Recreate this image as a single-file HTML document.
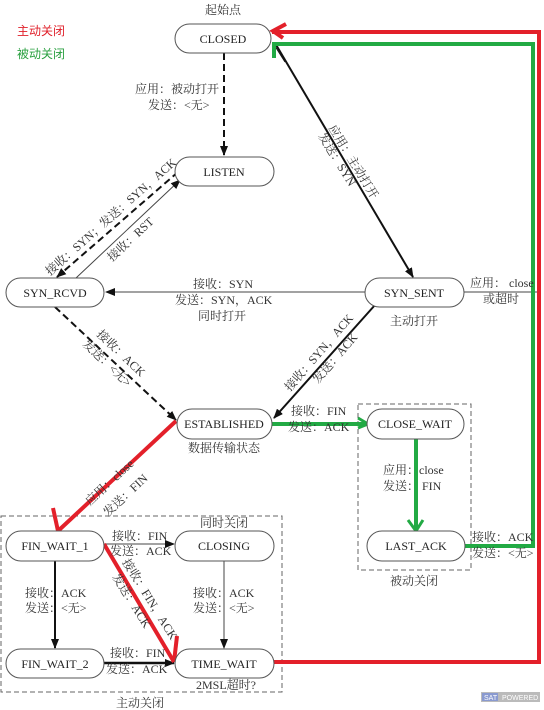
<!DOCTYPE html>
<html><head><meta charset="utf-8"><style>
html,body{margin:0;padding:0;background:#fff;}
svg{display:block}
text{font-family:"Liberation Serif","Noto Serif CJK SC",serif;font-size:12px;fill:#333;}
.n{font-size:12px;fill:#222;text-anchor:middle;}
.lg{font-family:"Liberation Sans","Noto Sans CJK SC",sans-serif;font-size:12px;}
</style></head><body>
<svg width="544" height="710" viewBox="0 0 544 710" xmlns="http://www.w3.org/2000/svg">
<defs>
<marker id="a" markerWidth="10" markerHeight="8" refX="9" refY="4" orient="auto" markerUnits="userSpaceOnUse"><path d="M0,0 L10,4 L0,8 Z" fill="#111"/></marker>
</defs>
<text class="lg" x="17" y="35" style="fill:#e0202a">主动关闭</text>
<text class="lg" x="17" y="58" style="fill:#2aa040">被动关闭</text>
<text x="223" y="14" text-anchor="middle">起始点</text>

<rect x="1" y="516" width="281" height="176" fill="none" stroke="#666" stroke-dasharray="5,3"/>
<rect x="358" y="404" width="113" height="166" fill="none" stroke="#666" stroke-dasharray="5,3"/>

<line x1="224" y1="53" x2="224" y2="155" stroke="#111" stroke-width="2" stroke-dasharray="7,4" marker-end="url(#a)"/>
<line x1="275" y1="43" x2="413" y2="277" stroke="#111" stroke-width="2" marker-end="url(#a)"/>
<line x1="273" y1="43" x2="285" y2="62" stroke="#111" stroke-width="1"/>
<line x1="178" y1="172" x2="57" y2="277" stroke="#111" stroke-width="2" stroke-dasharray="7,4" marker-end="url(#a)"/>
<line x1="76" y1="278" x2="180" y2="180" stroke="#444" stroke-width="1" marker-end="url(#a)"/>
<line x1="365" y1="292" x2="106" y2="292" stroke="#444" stroke-width="1" marker-end="url(#a)"/>
<line x1="464" y1="292" x2="539" y2="292" stroke="#444" stroke-width="1"/>
<line x1="55" y1="307" x2="176" y2="420" stroke="#111" stroke-width="2" stroke-dasharray="7,4" marker-end="url(#a)"/>
<line x1="375" y1="305" x2="274" y2="418" stroke="#111" stroke-width="2" marker-end="url(#a)"/>
<line x1="104" y1="544" x2="174" y2="544" stroke="#444" stroke-width="1" marker-end="url(#a)"/>
<line x1="55" y1="561" x2="55" y2="648" stroke="#111" stroke-width="2" marker-end="url(#a)"/>
<line x1="224" y1="561" x2="224" y2="648" stroke="#444" stroke-width="1" marker-end="url(#a)"/>
<line x1="104" y1="663" x2="174" y2="663" stroke="#111" stroke-width="2.5" marker-end="url(#a)"/>

<polyline points="272,424 367,424" fill="none" stroke="#22aa44" stroke-width="4"/>
<polyline points="358,418 368,424 358,428" fill="none" stroke="#22aa44" stroke-width="3"/>
<line x1="416" y1="439" x2="416" y2="531" stroke="#22aa44" stroke-width="4"/>
<polyline points="408,520 416,531 423,520" fill="none" stroke="#22aa44" stroke-width="3"/>
<polyline points="465,546 533,546 533,44 274,44 274,58" fill="none" stroke="#22aa44" stroke-width="4"/>
<polyline points="274,662 539,662 539,32 272,32" fill="none" stroke="#e3202a" stroke-width="4"/>
<polyline points="286,24 273,31 283,38" fill="none" stroke="#e3202a" stroke-width="4"/>
<line x1="176" y1="421" x2="58" y2="531" stroke="#e3202a" stroke-width="4"/>
<line x1="53" y1="508" x2="58" y2="531" stroke="#e3202a" stroke-width="4"/>
<line x1="104" y1="544" x2="174" y2="662" stroke="#e3202a" stroke-width="4"/>
<line x1="177" y1="636" x2="174" y2="662" stroke="#e3202a" stroke-width="4"/>

<g fill="#fff" stroke="#555" stroke-width="1">
<rect x="175" y="24" width="96" height="29" rx="14.5"/>
<rect x="175" y="157" width="99" height="29" rx="14.5"/>
<rect x="6" y="278" width="98" height="29" rx="14.5"/>
<rect x="365" y="278" width="99" height="29" rx="14.5"/>
<rect x="177" y="409" width="95" height="30" rx="15"/>
<rect x="367" y="409" width="97" height="30" rx="15"/>
<rect x="6" y="531" width="98" height="30" rx="15"/>
<rect x="175" y="531" width="99" height="30" rx="15"/>
<rect x="367" y="531" width="98" height="30" rx="15"/>
<rect x="6" y="649" width="98" height="29" rx="14.5"/>
<rect x="175" y="649" width="99" height="29" rx="14.5"/>
</g>
<text class="n" x="223" y="43">CLOSED</text>
<text class="n" x="224" y="176">LISTEN</text>
<text class="n" x="55" y="297">SYN_RCVD</text>
<text class="n" x="414" y="297">SYN_SENT</text>
<text class="n" x="224" y="428">ESTABLISHED</text>
<text class="n" x="415" y="428">CLOSE_WAIT</text>
<text class="n" x="55" y="550">FIN_WAIT_1</text>
<text class="n" x="224" y="550">CLOSING</text>
<text class="n" x="416" y="550">LAST_ACK</text>
<text class="n" x="55" y="668">FIN_WAIT_2</text>
<text class="n" x="224" y="668">TIME_WAIT</text>

<text x="135" y="93">应用：被动打开</text>
<text x="148" y="109">发送：&lt;无&gt;</text>
<text x="0" y="0" transform="translate(328,128) rotate(58.5)">应用：主动打开</text>
<text x="0" y="0" transform="translate(318,136) rotate(58.5)">发送：SYN</text>
<text x="0" y="0" transform="translate(50,276) rotate(-41.5)">接收：SYN；发送：SYN，ACK</text>
<text x="0" y="0" transform="translate(112,262) rotate(-43)">接收：RST</text>
<text x="193" y="288">接收：SYN</text>
<text x="175" y="304">发送：SYN，ACK</text>
<text x="198" y="320">同时打开</text>
<text x="390" y="325">主动打开</text>
<text x="470" y="287">应用： close</text>
<text x="483" y="303">或超时</text>
<text x="0" y="0" transform="translate(96,335) rotate(43.5)">接收：ACK</text>
<text x="0" y="0" transform="translate(82,345) rotate(43.5)">发送：&lt;无&gt;</text>
<text x="0" y="0" transform="translate(290,392) rotate(-49)">接收：SYN，ACK</text>
<text x="0" y="0" transform="translate(318,384) rotate(-49)">发送：ACK</text>
<text x="188" y="452">数据传输状态</text>
<text x="291" y="415">接收：FIN</text>
<text x="288" y="431">发送：ACK</text>
<text x="383" y="474">应用：close</text>
<text x="383" y="490">发送：  FIN</text>
<text x="390" y="585">被动关闭</text>
<text x="472" y="541">接收：ACK</text>
<text x="472" y="557">发送：&lt;无&gt;</text>
<text x="0" y="0" transform="translate(90,506) rotate(-43)">应用：close</text>
<text x="0" y="0" transform="translate(108,517) rotate(-43)">发送：FIN</text>
<text x="200" y="527">同时关闭</text>
<text x="112" y="540">接收：FIN</text>
<text x="110" y="555">发送：ACK</text>
<text x="25" y="597">接收：ACK</text>
<text x="25" y="612">发送：&lt;无&gt;</text>
<text x="193" y="597">接收：ACK</text>
<text x="193" y="612">发送：&lt;无&gt;</text>
<text x="0" y="0" transform="translate(122,562) rotate(58)">接收：FIN，ACK</text>
<text x="0" y="0" transform="translate(112,577) rotate(58)">发送：ACK</text>
<text x="110" y="657">接收：FIN</text>
<text x="106" y="673">发送：ACK</text>
<text x="196" y="689">2MSL超时?</text>
<text x="116" y="707">主动关闭</text>
<rect x="481" y="692" width="59" height="10" fill="#bbb"/>
<rect x="482" y="693" width="16" height="8" fill="#8a9ad0"/>
<text x="484" y="700" style="font-size:7px;fill:#fff;font-family:'Liberation Sans',sans-serif">SAT</text>
<text x="502" y="700" style="font-size:7px;fill:#fff;font-family:'Liberation Sans',sans-serif">POWERED</text>
</svg>
</body></html>
